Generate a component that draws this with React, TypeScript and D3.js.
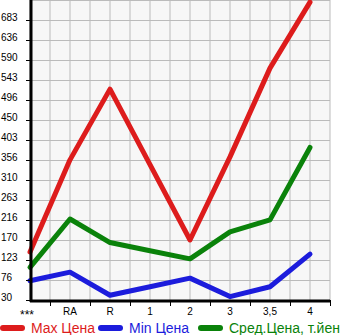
import React from "react";
import * as d3 from "d3";

const categories = ["***", "RA", "R", "1", "2", "3", "3,5", "4"];
const maxPrice = [142, 357, 522, 346, 170, 364, 571, 725];
const minPrice = [75, 95, 41, 61, 81, 38, 61, 137];
const avgPrice = [106, 219, 164, 145, 126, 189, 217, 386];
const yTickLabels = ["30", "76", "123", "170", "216", "263", "310", "356", "403", "450", "496", "543", "590", "636", "683"];
const legendLabels = ["Max Цена", "Min Цена", "Сред.Цена, т.йен"];

const W = 345;
const H = 335;
const L = 30, R = 330, T = 0, B = 300;
const yMin = 30, yMax = 730;

const colors = ["#dd1c1c", "#1c1cdc", "#0a820a"];

export default function App() {
  const y = d3.scaleLinear().domain([yMin, yMax]).range([B, T]);
  const xb = d3.scaleBand<string>().domain(categories).range([L - 20, R]);
  const bw = xb.bandwidth();
  const x = (c: string) => (xb(c) as number) + bw / 2;
  const gx = d3.scaleLinear().domain([0, 15]).range([L, R]);
  const gy = d3.scaleLinear().domain([0, 15]).range([B, T]);
  const tickVals = yTickLabels.map((_, i) => yMin + (i * (yMax - yMin)) / 15);

  const line = d3
    .line<number>()
    .x((_, i) => x(categories[i]))
    .y((v) => y(v));

  const series = [maxPrice, minPrice, avgPrice];
  const legendX = [0, 98, 198];

  return (
    <svg
      width={W}
      height={H}
      style={{ position: "absolute", left: 0, top: 0, background: "#fff" }}
      fontFamily="'Liberation Sans', Arial, sans-serif"
    >
      <rect x={L} y={T} width={R - L} height={B - T} fill="#f7f7f7" />
      {d3.range(0, 16).map((i) => (
        <line key={"gv" + i} x1={gx(i)} x2={gx(i)} y1={T} y2={B} stroke="#bbbbbb" strokeWidth={1} />
      ))}
      {d3.range(0, 16).map((i) => (
        <line key={"gh" + i} x1={L} x2={R} y1={gy(i) + 0.5} y2={gy(i) + 0.5} stroke="#bbbbbb" strokeWidth={1} />
      ))}
      {series.map((s, k) => (
        <path
          key={"s" + k}
          d={line(s) || ""}
          fill="none"
          stroke={colors[k]}
          strokeWidth={5}
          strokeLinejoin="round"
          strokeLinecap="round"
        />
      ))}
      {/* y axis */}
      <line x1={L + 1} x2={L + 1} y1={T} y2={B + 2} stroke="#000" strokeWidth={3} />
      {tickVals.map((v, i) => (
        <g key={"yt" + i}>
          <line x1={L - 4} x2={L} y1={y(v) + 0.5} y2={y(v) + 0.5} stroke="#000" strokeWidth={1} />
          <text x={1} y={y(v) + 1} fontSize={10} fill="#000">
            {yTickLabels[i]}
          </text>
        </g>
      ))}
      {/* x axis */}
      <line x1={L} x2={R} y1={B + 1} y2={B + 1} stroke="#000" strokeWidth={3} />
      {categories.map((c) => (
        <g key={"xt" + c}>
          <line
            x1={(xb(c) as number) + bw + 0.5}
            x2={(xb(c) as number) + bw + 0.5}
            y1={B}
            y2={B + 6}
            stroke="#000"
            strokeWidth={1}
          />
          <text
            x={c === "***" ? x(c) - 3 : x(c)}
            y={c === "***" ? B + 19 : B + 15}
            fontSize={c === "***" ? 12 : 10}
            textAnchor="middle"
            fill="#000"
          >
            {c}
          </text>
        </g>
      ))}
      {/* legend */}
      {legendLabels.map((lab, k) => (
        <g key={"lg" + k}>
          <line
            x1={legendX[k] + 3}
            x2={legendX[k] + 22}
            y1={328}
            y2={328}
            stroke={colors[k]}
            strokeWidth={6}
            strokeLinecap="round"
          />
          <text x={legendX[k] + 31} y={333} fontSize={14} fill={colors[k]}>
            {lab}
          </text>
        </g>
      ))}
    </svg>
  );
}
